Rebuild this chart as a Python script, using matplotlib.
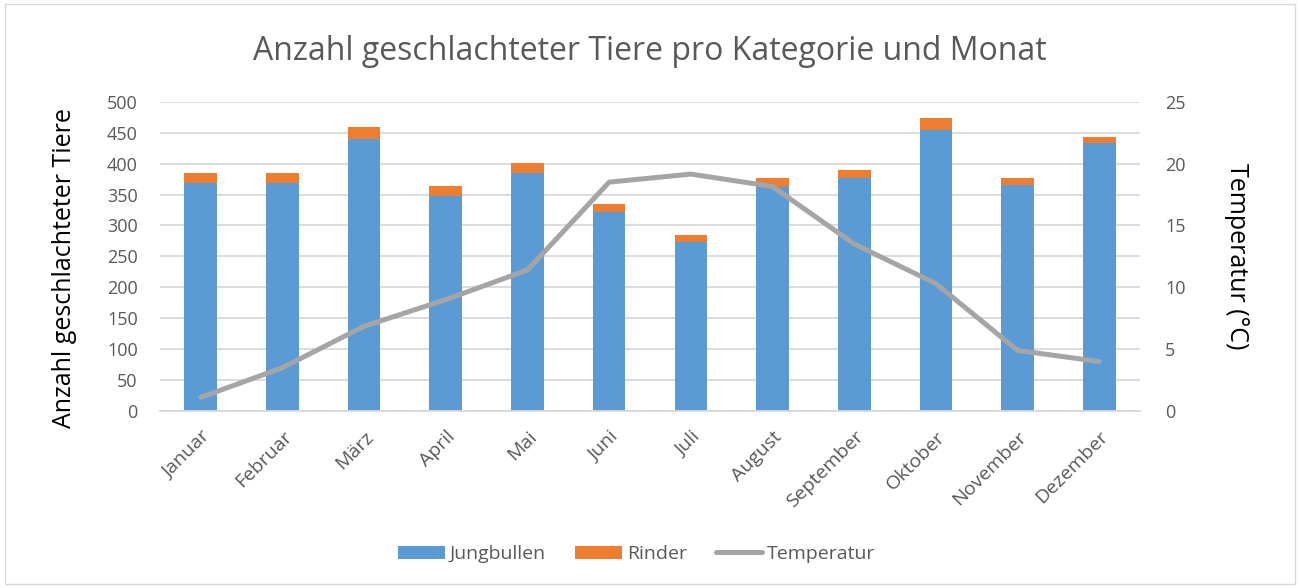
import matplotlib
matplotlib.use("Agg")
import matplotlib.pyplot as plt
from matplotlib.lines import Line2D
from matplotlib.patches import Patch, Rectangle

plt.rcParams['font.family'] = ['Open Sans', 'DejaVu Sans']

months = ["Januar", "Februar", "März", "April", "Mai", "Juni", "Juli",
          "August", "September", "Oktober", "November", "Dezember"]
jungbullen = [368, 369, 440, 348, 385, 321, 273, 362, 377, 455, 366, 433]
rinder = [16, 15, 19, 15, 16, 13, 12, 15, 13, 19, 10, 10]
temperatur = [1.1, 3.5, 6.85, 9.0, 11.4, 18.5, 19.15, 18.15, 13.5, 10.3, 4.9, 4.0]

blue = "#5B9BD5"
orange = "#ED7D31"
gray = "#A5A5A5"
txt = "#595959"
grid = "#D9D9D9"

fig = plt.figure(figsize=(13, 5.88), dpi=100)
fig.patches.append(Rectangle((0.004, 0.006), 0.992, 0.988, transform=fig.transFigure,
                             fill=False, edgecolor=grid, linewidth=1))
ax = fig.add_axes([0.123, 0.301, 0.754, 0.526])
x = list(range(len(months)))
ax.bar(x, jungbullen, width=0.4, color=blue, zorder=2, label="Jungbullen")
ax.bar(x, rinder, width=0.4, bottom=jungbullen, color=orange, zorder=2, label="Rinder")
ax.set_ylim(0, 500)
ax.set_xlim(-0.5, 11.5)
ax.set_yticks(range(0, 501, 50))
ax.yaxis.grid(True, color=grid, linewidth=1.3, zorder=0)
ax.set_axisbelow(True)
for s in ax.spines.values():
    s.set_visible(False)
ax.spines['bottom'].set_visible(True)
ax.spines['bottom'].set_color(grid)
ax.spines['bottom'].set_linewidth(1.3)
ax.tick_params(axis='both', length=0, colors=txt)
ax.tick_params(axis='y', pad=16, labelsize=13)
ax.set_xticks(x)
ax.set_xticklabels(months, rotation=45, ha='right', rotation_mode='anchor')
ax.tick_params(axis='x', pad=12, labelsize=14)
ax.set_ylabel("Anzahl geschlachteter Tiere", fontsize=18, color='black')
ax.yaxis.set_label_coords(-0.085, 0.463)

ax2 = ax.twinx()
ax2.plot(x, temperatur, color=gray, linewidth=3.6, solid_capstyle='round', zorder=3)
ax2.set_ylim(0, 25)
ax2.set_yticks(range(0, 26, 5))
for s in ax2.spines.values():
    s.set_visible(False)
ax2.tick_params(axis='y', length=0, colors=txt, labelsize=13, pad=18)
ax2.set_ylabel("Temperatur (°C)", fontsize=18, color='black', rotation=270, labelpad=46)

fig.text(0.5, 0.913, "Anzahl geschlachteter Tiere pro Kategorie und Monat",
         ha='center', va='center', fontsize=23, color=txt)

handles = [Patch(facecolor=blue, label="Jungbullen"),
           Patch(facecolor=orange, label="Rinder"),
           Line2D([0], [0], color=gray, linewidth=3.6, solid_capstyle='round', label="Temperatur")]
leg = fig.legend(handles=handles, loc='center', bbox_to_anchor=(0.49, 0.058), ncol=3,
                 frameon=False, fontsize=14, handlelength=2.4, handleheight=0.65,
                 columnspacing=1.5, handletextpad=0.25)
for t in leg.get_texts():
    t.set_color(txt)

fig.savefig("out.png", dpi=100)
